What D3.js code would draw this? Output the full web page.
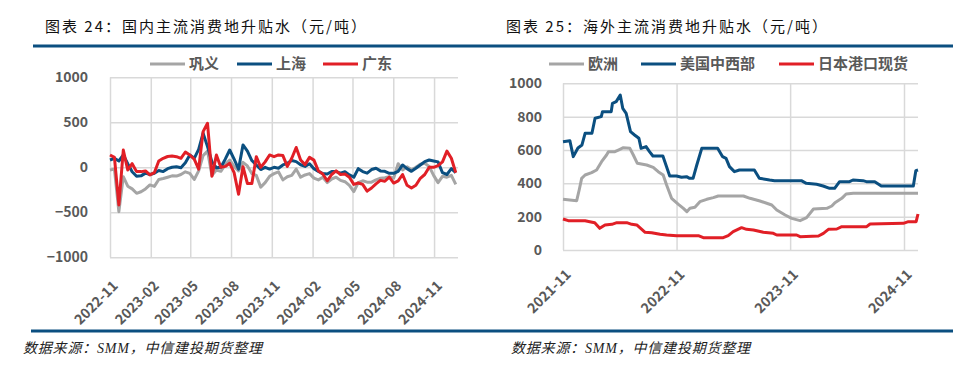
<!DOCTYPE html>
<html>
<head>
<meta charset="utf-8">
<script src="https://cdn.jsdelivr.net/npm/d3@7"></script>
<style>
body { margin: 0; background: #fff; }
svg { display: block; }
</style>
</head>
<body>
<div id="canvas"></div>
<script>
"use strict"
let svgWidth = 980;
let svgHeight = 377;

// ---- left chart: domestic premium (yuan/t), one reading every ~10 days ----
let domesticDates = [
  "2022-11-01","2022-11-11","2022-11-21","2022-12-01","2022-12-11","2022-12-21","2022-12-31",
  "2023-01-10","2023-01-20","2023-01-30","2023-02-09","2023-02-19","2023-03-01","2023-03-11",
  "2023-03-21","2023-03-31","2023-04-10","2023-04-20","2023-04-30","2023-05-10","2023-05-20",
  "2023-05-30","2023-06-09","2023-06-19","2023-06-29","2023-07-09","2023-07-19","2023-07-29",
  "2023-08-08","2023-08-18","2023-08-28","2023-09-07","2023-09-17","2023-09-27","2023-10-07",
  "2023-10-17","2023-10-27","2023-11-06","2023-11-16","2023-11-26","2023-12-06","2023-12-16",
  "2023-12-26","2024-01-05","2024-01-15","2024-01-25","2024-02-04","2024-02-14","2024-02-24",
  "2024-03-05","2024-03-15","2024-03-25","2024-04-04","2024-04-14","2024-04-24","2024-05-04",
  "2024-05-14","2024-05-24","2024-06-03","2024-06-13","2024-06-23","2024-07-03","2024-07-13",
  "2024-07-23","2024-08-02","2024-08-12","2024-08-22","2024-09-01","2024-09-11","2024-09-21",
  "2024-10-01","2024-10-11","2024-10-21","2024-10-31","2024-11-10","2024-11-20","2024-11-30",
  "2024-12-10","2024-12-20"
];
let gongyi = [
  -30,-20,-493,-104,-210,-240,-289,-272,-240,-196,-212,-135,-125,-110,-95,-98,-80,-50,-67,-135,
  -40,130,180,-90,-30,-45,30,81,10,-40,55,15,-70,-90,-220,-170,-100,-70,-50,-140,
  -105,-90,-20,-110,-85,-70,-120,-140,-110,-170,-130,-110,-145,-160,-200,-270,-170,-150,-165,-165,
  -140,-122,-115,-105,-120,40,-30,5,-28,0,35,44,10,-90,-170,-100,-110,-90,-190
];
let shanghai = [
  81,100,70,137,40,-50,-100,-95,-65,-80,-67,-35,-48,-15,0,7,-5,50,137,100,
  200,380,230,60,-5,0,90,192,90,-20,248,180,75,25,-25,0,-20,0,-10,26,
  44,75,63,28,10,40,-15,-45,-70,-75,-48,-48,-65,-50,-85,-110,-15,-48,-65,-25,
  -10,-40,-45,-67,-67,-45,26,-15,-45,-11,26,63,81,70,60,-60,-80,-15,-60
];
let guangdong = [
  137,110,-418,192,-30,40,-48,-48,-40,-85,-60,70,100,120,125,118,100,170,137,90,
  -20,396,489,-100,137,0,10,44,-60,-300,7,-180,-180,118,0,60,137,118,137,130,
  10,100,220,81,30,110,80,-40,-75,-150,-80,-40,-80,-75,-110,-190,-175,-190,-265,-230,
  -185,-145,-155,-110,-175,-150,-80,-200,-230,-200,-122,-80,0,0,18,60,180,100,-60
];
let domesticNames = ["巩义","上海","广东"];
let domesticTicks = ["2022-11","2023-02","2023-05","2023-08","2023-11","2024-02","2024-05","2024-08","2024-11"];
let domesticYTicks = [-1000,-500,0,500,1000];

// ---- right chart: overseas premium (yuan/t) ----
let europeDates = [
  "2021-11-01","2021-12-15","2021-12-23","2021-12-31","2022-01-11","2022-02-01","2022-02-17",
  "2022-03-05","2022-03-21","2022-03-27","2022-04-17","2022-05-03","2022-05-14","2022-06-04",
  "2022-06-15","2022-06-28","2022-07-28","2022-08-18","2022-09-03","2022-09-19","2022-09-30",
  "2022-10-16","2022-11-07","2022-11-23","2022-12-04","2022-12-14","2022-12-30","2023-01-15",
  "2023-02-06","2023-02-27","2023-03-15","2023-06-04","2023-06-25","2023-07-27","2023-09-03",
  "2023-09-19","2023-10-16","2023-11-06","2023-12-03","2023-12-24","2024-01-15","2024-02-27",
  "2024-03-14","2024-03-24","2024-04-15","2024-04-29","2024-05-22","2024-12-16"
];
let europe = [
  304,296,360,430,450,464,480,530,570,590,590,604,614,610,570,520,510,496,470,450,390,
  310,274,250,230,250,256,290,304,314,324,324,310,294,270,240,210,190,176,194,246,250,
  264,284,310,336,340,340
];
let usDates = [
  "2021-11-01","2021-11-23","2021-12-04","2021-12-19","2022-01-01","2022-01-11","2022-02-02",
  "2022-02-12","2022-03-04","2022-03-08","2022-04-05","2022-04-09","2022-04-21","2022-05-04",
  "2022-05-12","2022-05-23","2022-06-06","2022-06-19","2022-07-03","2022-07-10","2022-07-26",
  "2022-08-06","2022-08-17","2022-09-18","2022-10-10","2022-11-01","2022-11-17","2022-12-03",
  "2022-12-13","2022-12-24","2023-01-05","2023-01-21","2023-03-13","2023-03-29","2023-04-09",
  "2023-04-20","2023-05-06","2023-05-22","2023-07-09","2023-07-25","2023-08-27","2023-09-12",
  "2023-12-07","2023-12-23","2024-01-25","2024-02-15","2024-03-07","2024-03-23","2024-04-08",
  "2024-05-10","2024-05-21","2024-06-22","2024-07-03","2024-07-30","2024-08-20","2024-12-01",
  "2024-12-09","2024-12-16"
];
let usMidwest = [
  650,656,560,612,630,700,700,790,800,830,830,880,890,930,850,820,710,690,670,610,620,
  590,564,564,444,444,436,440,430,430,510,610,610,560,550,500,470,480,480,430,420,416,
  416,400,394,384,370,370,410,410,420,416,410,410,384,384,476,480
];
let japanDates = [
  "2021-11-01","2021-11-18","2022-01-11","2022-01-26","2022-02-11","2022-02-27","2022-03-16",
  "2022-04-07","2022-04-23","2022-05-25","2022-06-10","2022-06-26","2022-07-23","2022-08-13",
  "2022-09-09","2022-09-30","2022-11-01","2023-01-10","2023-01-26","2023-03-31","2023-04-16",
  "2023-05-02","2023-05-29","2023-06-14","2023-07-06","2023-08-07","2023-09-08","2023-09-19",
  "2023-11-22","2023-12-03","2024-01-31","2024-02-16","2024-03-03","2024-03-30","2024-04-15",
  "2024-07-04","2024-07-15","2024-10-30","2024-11-15","2024-12-10","2024-12-16"
];
let japan = [
  186,176,176,170,164,130,150,154,164,164,154,150,106,104,94,90,86,86,74,74,86,
  110,134,124,120,106,100,90,90,80,84,100,124,126,140,140,156,160,170,170,216
];
let overseasNames = ["欧洲","美国中西部","日本港口现货"];
let overseasTicks = ["2021-11","2022-11","2023-11","2024-11"];
let overseasYTicks = [0,200,400,600,800,1000];

let seriesColors = ["#a5a5a5","#0b4f80","#e11f26"];
let textColor = "#595959";
let gridColor = "#d9d9d9";
let ruleColor = "#0b4f80";
let labelFont = "'Noto Sans CJK SC', 'Noto Sans', sans-serif";
let noteFont = "'Liberation Serif', 'Noto Sans CJK SC', serif";

let parseDay = d3.timeParse("%Y-%m-%d");
let parseMonth = d3.timeParse("%Y-%m");

let svg = d3.select("#canvas")
  .append("svg")
  .attr("width", svgWidth)
  .attr("height", svgHeight)
  .style("font-family", labelFont);

// titles, rules, source notes
let titles = ["图表 24：国内主流消费地升贴水（元/吨）", "图表 25：海外主流消费地升贴水（元/吨）"];
let titleX = [45, 506];
for (let i = 0; i < 2; i++) {
  svg.append("text")
    .attr("x", titleX[i])
    .attr("y", 32)
    .attr("font-size", 15)
    .attr("letter-spacing", 2)
    .attr("fill", "#111")
    .text(titles[i]);
}
svg.append("line").attr("x1", 33).attr("x2", 953).attr("y1", 46).attr("y2", 46)
  .attr("stroke", ruleColor).attr("stroke-width", 3);
svg.append("line").attr("x1", 31).attr("x2", 953).attr("y1", 331).attr("y2", 331)
  .attr("stroke", ruleColor).attr("stroke-width", 3);
let noteX = [23, 511];
for (let i = 0; i < 2; i++) {
  svg.append("text")
    .attr("x", noteX[i])
    .attr("y", 353)
    .attr("font-family", noteFont)
    .attr("font-size", 14)
    .attr("font-style", "italic")
    .attr("letter-spacing", 0.8)
    .attr("fill", "#222")
    .text("数据来源：SMM，中信建投期货整理");
}

function drawPanel(opt) {
  let g = svg.append("g");
  let x = d3.scaleTime().domain(opt.xDomain).range([opt.left, opt.right]);
  let y = d3.scaleLinear().domain(opt.yDomain).range([opt.bottom, opt.top]);

  let yAxis = g.append("g")
    .attr("transform", "translate(" + opt.left + ",0)")
    .call(d3.axisLeft(y).tickValues(opt.yTicks).tickSize(-(opt.right - opt.left)).tickPadding(opt.yPad).tickFormat(d3.format("d")));
  let xAxis = g.append("g")
    .attr("transform", "translate(0," + opt.bottom + ")")
    .call(d3.axisBottom(x).tickValues(opt.xTicks.map(parseMonth)).tickSize(-(opt.bottom - opt.top)).tickFormat(d3.timeFormat("%Y-%m")));

  g.selectAll(".domain").remove();
  g.selectAll(".tick line").attr("stroke", gridColor).attr("stroke-width", 1.5);
  g.selectAll(".tick text")
    .attr("fill", textColor)
    .attr("font-family", labelFont)
    .attr("font-weight", "bold")
    .attr("font-size", 14);
  xAxis.selectAll(".tick text")
    .attr("x", 0).attr("y", 0).attr("dy", "0.35em")
    .attr("text-anchor", "end")
    .attr("transform", "translate(" + opt.xLabelDx + "," + opt.xLabelDy + ") rotate(-45)");

  let line = d3.line()
    .x(function(d) { return x(d.date); })
    .y(function(d) { return y(d.value); });
  for (let i = 0; i < opt.series.length; i++) {
    let s = opt.series[i];
    let pts = s.values.map(function(v, j) { return {date: parseDay(s.dates[j]), value: v}; });
    g.append("path")
      .datum(pts)
      .attr("fill", "none")
      .attr("stroke", seriesColors[i])
      .attr("stroke-width", opt.lineWidth)
      .attr("stroke-linejoin", "round")
      .attr("d", line);
  }

  // legend
  for (let i = 0; i < opt.names.length; i++) {
    let lx = opt.legendX[i];
    g.append("line")
      .attr("x1", lx).attr("x2", lx + 35)
      .attr("y1", 64).attr("y2", 64)
      .attr("stroke", seriesColors[i]).attr("stroke-width", 3);
    g.append("text")
      .attr("x", lx + 39)
      .attr("y", 64)
      .attr("dy", "0.35em")
      .attr("fill", textColor)
      .attr("font-weight", "bold")
      .attr("font-size", 15)
      .text(opt.names[i]);
  }
}

drawPanel({
  left: 110, right: 458, top: 77.3, bottom: 257.3,
  xDomain: [parseDay("2022-11-01"), parseDay("2024-12-25")],
  yDomain: [-1000, 1000],
  yTicks: domesticYTicks, xTicks: domesticTicks, yPad: 22,
  xLabelDx: 5, xLabelDy: 26,
  lineWidth: 3,
  names: domesticNames, legendX: [150, 237, 323],
  series: [
    {dates: domesticDates, values: gongyi},
    {dates: domesticDates, values: shanghai},
    {dates: domesticDates, values: guangdong}
  ]
});

drawPanel({
  left: 563, right: 918, top: 83.3, bottom: 250,
  xDomain: [parseDay("2021-11-01"), parseDay("2024-12-16")],
  yDomain: [0, 1000],
  yTicks: overseasYTicks, xTicks: overseasTicks, yPad: 21,
  xLabelDx: 5, xLabelDy: 22,
  lineWidth: 3,
  names: overseasNames, legendX: [549, 641, 779],
  series: [
    {dates: europeDates, values: europe},
    {dates: usDates, values: usMidwest},
    {dates: japanDates, values: japan}
  ]
});
</script>
</body>
</html>
